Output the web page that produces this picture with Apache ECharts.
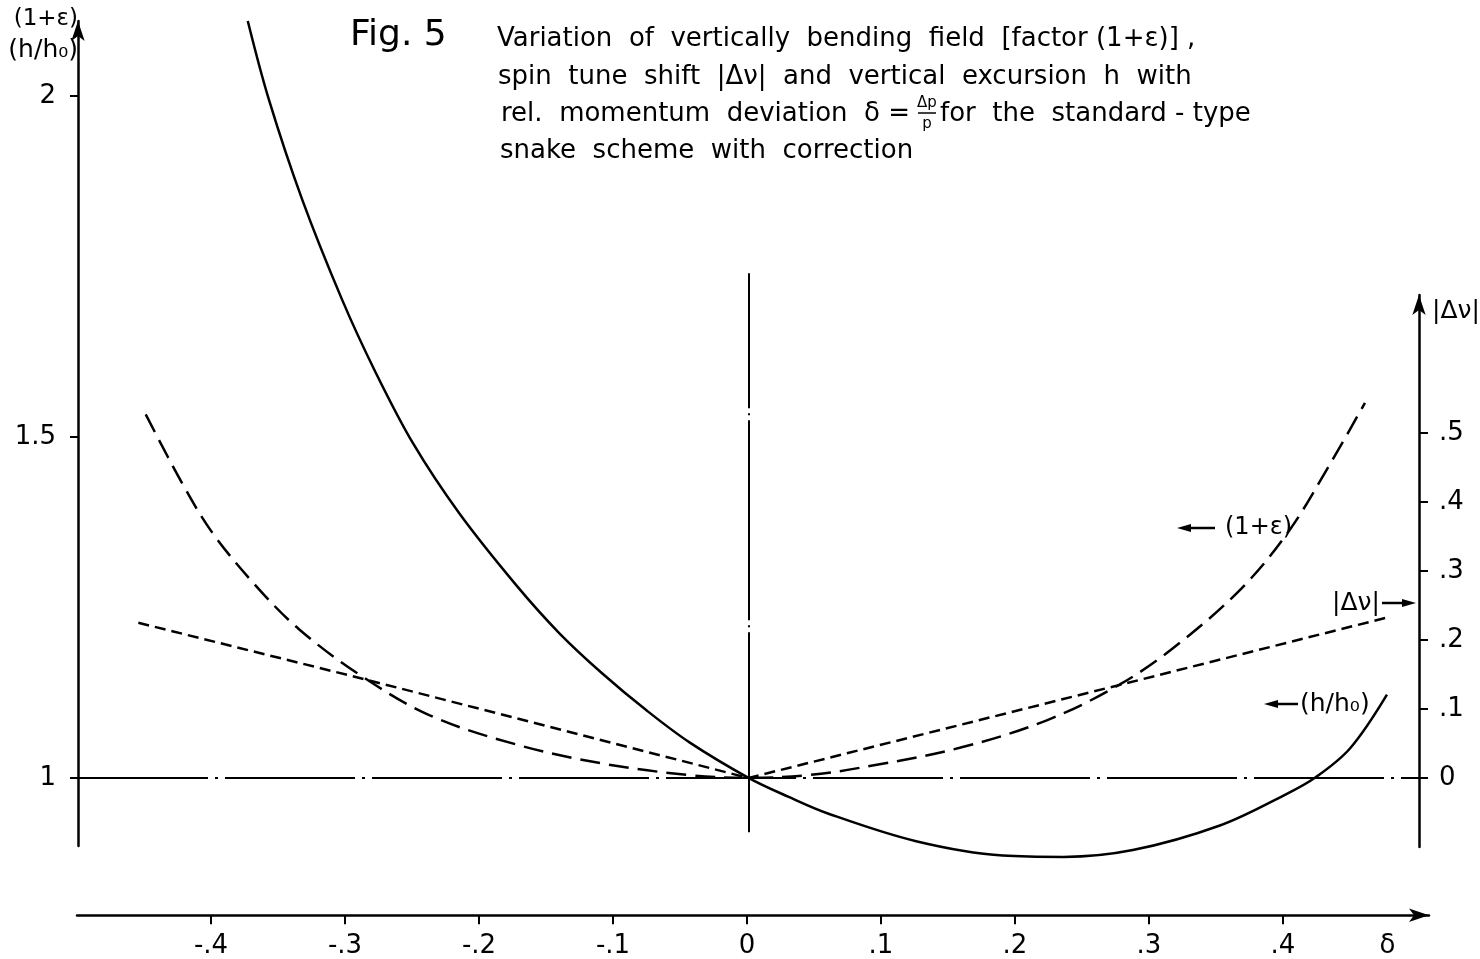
<!DOCTYPE html>
<html>
<head>
<meta charset="utf-8">
<script src="https://cdn.jsdelivr.net/npm/echarts@6/dist/echarts.min.js"></script>
<style>
  html, body { margin: 0; padding: 0; background: #fff; }
  #chart { width: 1480px; height: 959px; }
</style>
</head>
<body>
<div id="chart"></div>
<script>
// δ = Δp/p
const hDelta  = [-0.3734, -0.3577, -0.3328, -0.303, -0.2784, -0.25, -0.2157, -0.1734, -0.141, -0.109, -0.0761, -0.044, 0,
                 0.03, 0.0602, 0.125, 0.1896, 0.2351, 0.2866, 0.3515, 0.4, 0.4224, 0.4485, 0.4761];
const hValues = [2.11, 1.995, 1.848, 1.701, 1.596, 1.49, 1.388, 1.283, 1.212, 1.153, 1.099, 1.052, 1.0,
                 0.972, 0.947, 0.907, 0.886, 0.884, 0.894, 0.93, 0.975, 1.0, 1.043, 1.122];

// (1+ε) curve, long dashes
const epsDelta  = [-0.4495, -0.4226, -0.4, -0.3675, -0.3352, -0.2899, -0.2381, -0.1734, -0.109, -0.044, 0,
                   0.045, 0.0925, 0.1575, 0.222, 0.2769, 0.3191, 0.3677, 0.403, 0.4321, 0.4597];
const epsValues = [1.533, 1.433, 1.36, 1.282, 1.218, 1.151, 1.092, 1.049, 1.021, 1.004, 1.0,
                   1.004, 1.018, 1.044, 1.084, 1.137, 1.194, 1.278, 1.362, 1.455, 1.55];

// |Δν|, short dashes, right axis
const nuDelta  = [-0.455, -0.29, 0, 0.277, 0.475];
const nuValues = [0.225, 0.145, 0, 0.135, 0.232];

const xTicks = [-0.4, -0.3, -0.2, -0.1, 0, 0.1, 0.2, 0.3, 0.4];
const deltaLabelAt = 0.478;
const leftTicks = [1, 1.5, 2];
const rightTicks = [0, 0.1, 0.2, 0.3, 0.4, 0.5];
const zeroLineFrom = 0.92, zeroLineTo = 1.74;

const FONT = '"DejaVu Sans", sans-serif';
const INK = '#000';

const zip = (xs, ys) => xs.map((x, i) => [x, ys[i]]);

function fmtFrac(v) {
  if (Math.abs(v) < 1e-9) return '0';
  const s = '.' + Math.round(Math.abs(v) * 10);
  return v < 0 ? '-' + s : s;
}

// small arrow for the curve labels
function arrow(x1, x2, y) {
  const d = Math.sign(x2 - x1);
  return [
    { type: 'line', shape: { x1: x1, y1: y, x2: x2 - d * 8, y2: y }, style: { stroke: INK, lineWidth: 2.5 } },
    { type: 'polygon', shape: { points: [[x2, y], [x2 - d * 14, y - 4], [x2 - d * 14, y + 4]] }, style: { fill: INK } }
  ];
}

function txt(x, y, text, size, align) {
  return {
    type: 'text', x: x, y: y,
    style: { text: text, font: size + 'px ' + FONT, fill: INK, textAlign: align || 'left', textVerticalAlign: 'middle' }
  };
}

const chart = echarts.init(document.getElementById('chart'));

chart.setOption({
  animation: false,
  backgroundColor: '#fff',
  grid: [
    { left: 78, top: 21, width: 1341, height: 825 },
    { left: 78, top: 295, width: 1341, height: 552 },
    { left: 77, top: 915, width: 1352, height: 1 }
  ],
  xAxis: [
    { gridIndex: 0, type: 'value', min: -0.5, max: 0.5, show: false },
    { gridIndex: 1, type: 'value', min: -0.5, max: 0.5, show: false },
    {
      gridIndex: 2, type: 'value', min: -0.5, max: 0.509,
      axisLine: { onZero: false, symbol: ['none', 'arrow'], symbolSize: [10, 20], lineStyle: { color: INK, width: 2.5 } },
      axisTick: { customValues: xTicks, length: 9, lineStyle: { color: INK, width: 2 } },
      axisLabel: {
        customValues: xTicks.concat([deltaLabelAt]), margin: 18, color: INK, fontSize: 26, fontFamily: FONT,
        formatter: v => (v > 0.45 ? 'δ' : fmtFrac(v))
      },
      splitLine: { show: false }
    }
  ],
  yAxis: [
    {
      gridIndex: 0, type: 'value', min: 0.9, max: 2.11, position: 'left',
      axisLine: { show: true, onZero: false, symbol: ['none', 'arrow'], symbolSize: [10, 20], lineStyle: { color: INK, width: 2.5 } },
      axisTick: { show: true, customValues: leftTicks, length: 8, lineStyle: { color: INK, width: 2 } },
      axisLabel: { customValues: leftTicks, margin: 22, color: INK, fontSize: 26, fontFamily: FONT, formatter: v => String(v) },
      splitLine: { show: false }
    },
    {
      gridIndex: 1, type: 'value', min: -0.1, max: 0.7, position: 'right',
      axisLine: { show: true, onZero: false, symbol: ['none', 'arrow'], symbolSize: [10, 20], lineStyle: { color: INK, width: 2.5 } },
      axisTick: { show: true, customValues: rightTicks, length: 9, lineStyle: { color: INK, width: 2 } },
      axisLabel: { customValues: rightTicks, margin: 20, color: INK, fontSize: 26, fontFamily: FONT, formatter: fmtFrac },
      splitLine: { show: false }
    },
    { gridIndex: 2, type: 'value', min: 0, max: 1, show: false }
  ],
  series: [
    {
      name: '(h/h0)', type: 'line', xAxisIndex: 0, yAxisIndex: 0, clip: false,
      data: zip(hDelta, hValues), showSymbol: false, smooth: 0.35,
      lineStyle: { color: INK, width: 2.5 },
      markLine: {
        silent: true, symbol: 'none', label: { show: false },
        lineStyle: { color: INK, width: 2, type: [130, 7, 3, 7] },
        data: [
          { yAxis: 1 },
          [{ coord: [0, zeroLineFrom], lineStyle: { type: [200, 5, 2, 5], width: 2 } }, { coord: [0, zeroLineTo] }]
        ]
      }
    },
    {
      name: '(1+ε)', type: 'line', xAxisIndex: 0, yAxisIndex: 0,
      data: zip(epsDelta, epsValues), showSymbol: false, smooth: 0.35,
      lineStyle: { color: INK, width: 2.5, type: [20, 9] }
    },
    {
      name: '|Δν|', type: 'line', xAxisIndex: 1, yAxisIndex: 1,
      data: zip(nuDelta, nuValues), showSymbol: false,
      lineStyle: { color: INK, width: 2.5, type: [11, 6] }
    }
  ],
  graphic: [
    // axis names
    txt(78, 19, '(1+ε)', 23, 'right'),
    txt(78, 50, '(h/h₀)', 25, 'right'),
    txt(1432, 311, '|Δν|', 25, 'left'),
    // title and caption
    txt(350, 36, 'Fig. 5', 36, 'left'),
    txt(497, 39, 'Variation  of  vertically  bending  field  [factor (1+ε)] ,', 26),
    txt(498, 77, 'spin  tune  shift  |Δν|  and  vertical  excursion  h  with', 26),
    txt(501, 114, 'rel.  momentum  deviation  δ =', 26),
    txt(927, 103, 'Δp', 15, 'center'),
    { type: 'line', shape: { x1: 918, y1: 113, x2: 936, y2: 113 }, style: { stroke: INK, lineWidth: 1.5 } },
    txt(927, 124, 'p', 15, 'center'),
    txt(940, 114, 'for  the  standard - type', 26),
    txt(500, 151, 'snake  scheme  with  correction', 26),
    // curve labels
    ...arrow(1215, 1177, 528),
    txt(1225, 528, '(1+ε)', 24),
    txt(1332, 603, '|Δν|', 25),
    ...arrow(1382, 1416, 603),
    ...arrow(1298, 1264, 704),
    txt(1300, 704, '(h/h₀)', 25)
  ]
});
</script>
</body>
</html>
